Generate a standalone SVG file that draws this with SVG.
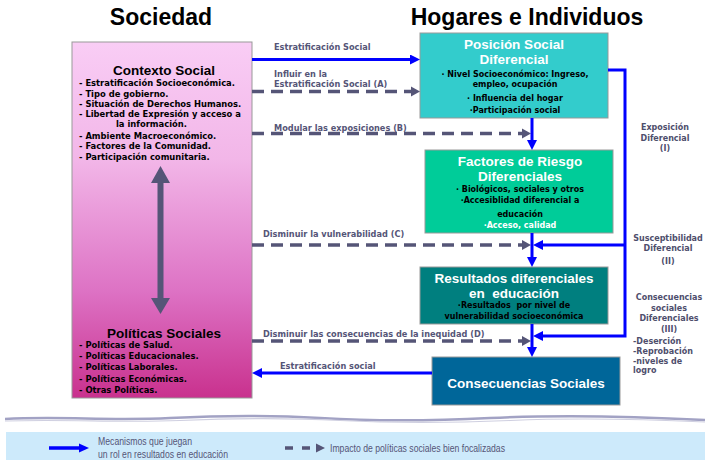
<svg xmlns="http://www.w3.org/2000/svg" width="705" height="460" viewBox="0 0 705 460">
<defs>
<linearGradient id="pink" x1="0" y1="0" x2="0" y2="1">
<stop offset="0" stop-color="#f9cdf5"/>
<stop offset="0.33" stop-color="#f2b6e8"/>
<stop offset="0.7" stop-color="#dd72c4"/>
<stop offset="1" stop-color="#c9318e"/>
</linearGradient>
<marker id="ab" markerUnits="userSpaceOnUse" markerWidth="11" markerHeight="10" refX="0" refY="5" orient="auto">
<path d="M0,0 L10,5 L0,10 z" fill="#0000ff"/>
</marker>
<marker id="ag" markerUnits="userSpaceOnUse" markerWidth="11" markerHeight="11" refX="0" refY="5.5" orient="auto">
<path d="M0,0.5 L9,5.5 L0,10.5 z" fill="#555577"/>
</marker>
</defs>
<style>
.hd{font-family:"Liberation Sans",Arial,sans-serif;font-weight:bold;font-size:23px;fill:#000}
.bt{font-family:"Liberation Sans",Arial,sans-serif;font-weight:bold;font-size:13.5px;text-anchor:middle}
.w{fill:#fff}
.k{fill:#000}
.it{font-family:"DejaVu Sans",Verdana,sans-serif;font-weight:bold;font-size:8.4px;fill:#000}
.bi{font-family:"DejaVu Sans",Verdana,sans-serif;font-weight:bold;font-size:8px;text-anchor:middle}
.lab{font-family:"DejaVu Sans",Verdana,sans-serif;font-weight:bold;font-size:8.2px;fill:#555577}
.rl{font-family:"DejaVu Sans",Verdana,sans-serif;font-weight:bold;font-size:8px;fill:#4e4e6c}
.lg{font-family:"Liberation Sans",Arial,sans-serif;font-size:11px;fill:#555577}
.box{stroke:#999;stroke-width:1}
.blue{stroke:#0000ff;stroke-width:3;fill:none}
.dash{stroke:#555577;stroke-width:3.5;stroke-dasharray:12 7;fill:none}
</style>
<rect width="705" height="460" fill="#fff"/>

<text class="hd" x="161" y="25" text-anchor="middle">Sociedad</text>
<text class="hd" x="527" y="25" text-anchor="middle">Hogares e Individuos</text>

<g id="sociedad">
<rect class="box" x="72" y="42" width="180" height="356" fill="url(#pink)" stroke="#8a8a8a"/>
<polygon points="160.5,166 170,183 163.5,183 163.5,298 170,298 160.5,314 151,298 157.5,298 157.5,183 151,183" fill="#555577"/>
</g>

<g id="contexto-social">
<text class="bt k" x="164" y="75">Contexto Social</text>
<text class="it" x="79" y="86">- Estratificación Socioeconómica.</text>
<text class="it" x="79" y="96.5">- Tipo de gobierno.</text>
<text class="it" x="79" y="107">- Situación de Derechos Humanos.</text>
<text class="it" x="79" y="117">- Libertad de Expresión y acceso a</text>
<text class="it" x="116" y="127">la información.</text>
<text class="it" x="79" y="138.5">- Ambiente Macroeconómico.</text>
<text class="it" x="79" y="149">- Factores de la Comunidad.</text>
<text class="it" x="79" y="159.5">- Participación comunitaria.</text>
</g>

<g id="politicas-sociales">
<text class="bt k" x="164" y="338">Políticas Sociales</text>
<text class="it" x="79" y="347.5">- Políticas de Salud.</text>
<text class="it" x="79" y="358.5">- Políticas Educacionales.</text>
<text class="it" x="79" y="370">- Políticas Laborales.</text>
<text class="it" x="79" y="381.5">- Políticas Económicas.</text>
<text class="it" x="79" y="392.5">- Otras Políticas.</text>
</g>

<g id="posicion-social">
<rect class="box" x="420" y="33" width="188" height="85" fill="#33cccc"/>
<text class="bt w" x="514" y="49">Posición Social</text>
<text class="bt w" x="514" y="63.5">Diferencial</text>
<text class="bi k" x="515" y="77">· Nivel Socioeconómico: Ingreso,</text>
<text class="bi k" x="515" y="86.5">empleo, ocupación</text>
<text class="bi k" x="515" y="100.5">· Influencia del hogar</text>
<text class="bi k" x="515" y="113">·Participación social</text>
</g>

<g id="factores-riesgo">
<rect class="box" x="425" y="150" width="188" height="83" fill="#00cc99"/>
<text class="bt w" x="520" y="166">Factores de Riesgo</text>
<text class="bt w" x="520" y="180.5">Diferenciales</text>
<text class="bi k" x="520" y="191.5">· Biológicos, sociales y otros</text>
<text class="bi k" x="520" y="202.5">·Accesiblidad diferencial a</text>
<text class="bi k" x="520" y="216.5">educación</text>
<text class="bi w" x="520" y="228">·Acceso, calidad</text>
</g>

<g id="resultados">
<rect class="box" x="420" y="267" width="188" height="57" fill="#007f7f"/>
<text class="bt w" x="514" y="283">Resultados diferenciales</text>
<text class="bt w" x="514" y="297.5" xml:space="preserve">en  educación</text>
<text class="bi k" x="514" y="307.5" xml:space="preserve">·Resultados  por nivel de</text>
<text class="bi k" x="514" y="319">vulnerabilidad socioeconómica</text>
</g>

<g id="consecuencias">
<rect class="box" x="432" y="357" width="188" height="48" fill="#006699"/>
<text class="bt w" x="526" y="388">Consecuencias Sociales</text>
</g>

<g id="connectors">
<line class="blue" x1="252" y1="59.5" x2="410" y2="59.5" marker-end="url(#ab)"/>
<line class="dash" x1="252" y1="91.5" x2="411" y2="91.5" marker-end="url(#ag)"/>
<line class="dash" x1="252" y1="133.5" x2="522" y2="133.5" marker-end="url(#ag)"/>
<line class="dash" x1="252" y1="245" x2="522" y2="245" marker-end="url(#ag)"/>
<line class="dash" x1="252" y1="341" x2="522" y2="341" marker-end="url(#ag)"/>

<line class="blue" x1="532" y1="118" x2="532" y2="140" marker-end="url(#ab)"/>
<line class="blue" x1="532" y1="233" x2="532" y2="257" marker-end="url(#ab)"/>
<line class="blue" x1="532" y1="324" x2="532" y2="347" marker-end="url(#ab)"/>

<polyline class="blue" points="608,70 625,70 625,336 543,336" marker-end="url(#ab)"/>
<line class="blue" x1="625" y1="245" x2="543" y2="245" marker-end="url(#ab)"/>

<line class="blue" x1="432" y1="373" x2="262" y2="373" marker-end="url(#ab)"/>

<text class="lab" x="274" y="49.5">Estratificación Social</text>
<text class="lab" x="274" y="76.5">Influir en la</text>
<text class="lab" x="274" y="86.5">Estratificación Social (A)</text>
<text class="lab" x="274" y="130.5">Modular las exposiciones (B)</text>
<text class="lab" x="263" y="236.5">Disminuir la vulnerabilidad (C)</text>
<text class="lab" x="263" y="336.5">Disminuir las consecuencias de la inequidad (D)</text>
<text class="lab" x="280" y="369">Estratificación social</text>

<g text-anchor="middle">
<text class="rl" x="665" y="129.5">Exposición</text>
<text class="rl" x="665" y="141">Diferencial</text>
<text class="rl" x="665" y="151">(I)</text>
<text class="rl" x="668" y="241">Susceptibilidad</text>
<text class="rl" x="668" y="251">Diferencial</text>
<text class="rl" x="668" y="264">(II)</text>
<text class="rl" x="669" y="300">Consecuencias</text>
<text class="rl" x="669" y="310.5">sociales</text>
<text class="rl" x="669" y="321">Diferenciales</text>
<text class="rl" x="669" y="332">(III)</text>
</g>
<text class="rl" x="633" y="343.5">-Deserción</text>
<text class="rl" x="633" y="354">-Reprobación</text>
<text class="rl" x="633" y="363.5">-niveles de</text>
<text class="rl" x="633" y="373">logro</text>
</g>

<g id="separator">
<path d="M5,419 C60,416 110,421 170,418 S270,415 320,418 S430,421 490,418 S610,415 705,420" stroke="#a2a2c4" stroke-width="2.5" fill="none"/>
<path d="M5,421 C70,419 120,423 180,420.5 S290,418 340,420.5 S450,423 510,420.5 S620,418 705,422" stroke="#cfcfe0" stroke-width="1.2" fill="none"/>
</g>

<g id="legend">
<rect x="6" y="432" width="699" height="28" fill="#cdeafb"/>
<line x1="49" y1="448" x2="80" y2="448" stroke="#0000ff" stroke-width="3.5"/>
<path d="M79,443.5 L89,448 L79,452.5 z" fill="#0000ff"/>
<text class="lg" x="98" y="444.5" textLength="94" lengthAdjust="spacingAndGlyphs">Mecanismos que juegan</text>
<text class="lg" x="98" y="457.5" textLength="130" lengthAdjust="spacingAndGlyphs">un rol en resultados en educación</text>
<line x1="285" y1="448" x2="313" y2="448" stroke="#555577" stroke-width="3.5" stroke-dasharray="8 9"/>
<path d="M316,443.5 L325,448 L316,452.5 z" fill="#555577"/>
<text class="lg" x="330" y="452" textLength="175" lengthAdjust="spacingAndGlyphs">Impacto de políticas sociales bien focalizadas</text>
</g>
</svg>
